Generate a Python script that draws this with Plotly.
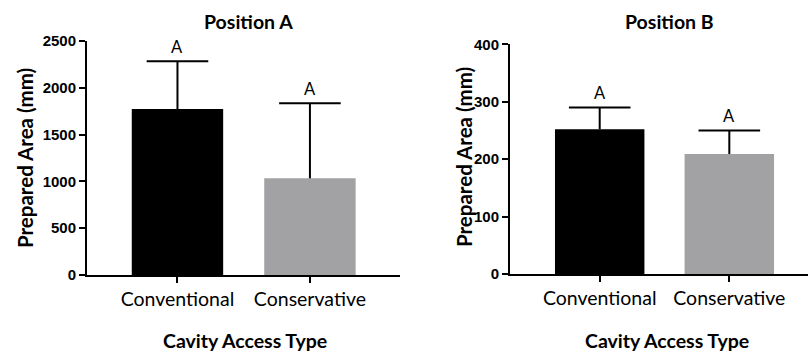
import plotly.graph_objects as go

categories = ["Conventional", "Conservative"]
pos_a_means = [1773, 1033]
pos_a_err = [510, 801]
pos_b_means = [252, 209]
pos_b_err = [38, 41]
sig_labels = ["A", "A"]
colors = ["#000000", "#a2a2a5"]

W, H = 808, 351

def px(x):
    return x / W

def py(y):
    return 1 - y / H

fig = go.Figure()

def add_panel(means, errs, xa, ya):
    fig.add_trace(go.Bar(
        x=categories, y=means, marker=dict(color=colors, line=dict(width=0)),
        width=0.69, xaxis=xa, yaxis=ya, showlegend=False, hoverinfo="skip",
    ))
    tops = [m + e for m, e in zip(means, errs)]
    # error bar: cap as a horizontal line marker at the top, stem downward to the mean
    fig.add_trace(go.Scatter(
        x=categories, y=tops, mode="markers",
        marker=dict(symbol="line-ew", size=44, color="#000000",
                    line=dict(width=2, color="#000000")),
        error_y=dict(type="data", symmetric=False, array=[0] * len(errs), arrayminus=errs,
                     color="#000000", thickness=2, width=0),
        xaxis=xa, yaxis=ya, showlegend=False, hoverinfo="skip", cliponaxis=False,
    ))

add_panel(pos_a_means, pos_a_err, "x", "y")
add_panel(pos_b_means, pos_b_err, "x2", "y2")

tickfont = dict(family="Liberation Sans", size=15, color="#000000", weight="bold")
catfont = dict(family="Lato", size=19.5, color="#000000")

axis_common = dict(showline=True, linecolor="#000000", linewidth=2, ticks="outside",
                   ticklen=6, tickwidth=2, tickcolor="#000000", showgrid=False,
                   zeroline=False, automargin=False)

fig.update_layout(
    width=W, height=H, autosize=False,
    margin=dict(l=0, r=0, t=0, b=0, pad=0, autoexpand=False),
    paper_bgcolor="white", plot_bgcolor="white",
    xaxis=dict(domain=[px(87), px(400)], range=[-0.683, 1.68], anchor="y",
               tickfont=catfont, **axis_common),
    yaxis=dict(domain=[py(275), py(41)], range=[0, 2500], tickvals=[0, 500, 1000, 1500, 2000, 2500],
               anchor="x", tickfont=tickfont, **axis_common),
    xaxis2=dict(domain=[px(510), px(808)], range=[-0.692, 1.607], anchor="y2",
                tickfont=catfont, **axis_common),
    yaxis2=dict(domain=[py(274), py(44.3)], range=[0, 400], tickvals=[0, 100, 200, 300, 400],
                anchor="x2", tickfont=tickfont, **axis_common),
)

ann = []
# significance letters
for i, c in enumerate(categories):
    ann.append(dict(x=c, y=pos_a_means[i] + pos_a_err[i], xref="x", yref="y", text=sig_labels[i],
                    showarrow=False, yanchor="bottom", yshift=2,
                    font=dict(family="Lato", size=16.5, color="#000000")))
    ann.append(dict(x=c, y=pos_b_means[i] + pos_b_err[i], xref="x2", yref="y2", text=sig_labels[i],
                    showarrow=False, yanchor="bottom", yshift=2,
                    font=dict(family="Lato", size=16.5, color="#000000")))

titlefont = dict(family="Lato", size=19.5, color="#000000", weight="bold")
ann += [
    dict(x=px(248), y=py(22), xref="paper", yref="paper", text="Position A", showarrow=False,
         font=titlefont, xanchor="center", yanchor="middle"),
    dict(x=px(669), y=py(22), xref="paper", yref="paper", text="Position B", showarrow=False,
         font=titlefont, xanchor="center", yanchor="middle"),
    dict(x=px(245), y=py(340), xref="paper", yref="paper", text="Cavity Access Type", showarrow=False,
         font=titlefont, xanchor="center", yanchor="middle"),
    dict(x=px(667), y=py(340), xref="paper", yref="paper", text="Cavity Access Type", showarrow=False,
         font=titlefont, xanchor="center", yanchor="middle"),
    dict(x=px(25), y=py(158), xref="paper", yref="paper", text="Prepared Area (mm)", showarrow=False,
         font=dict(titlefont, size=20.5), textangle=-90, xanchor="center", yanchor="middle"),
    dict(x=px(464), y=py(157), xref="paper", yref="paper", text="Prepared Area (mm)", showarrow=False,
         font=dict(titlefont, size=20.5), textangle=-90, xanchor="center", yanchor="middle"),
]
fig.update_layout(annotations=ann)

fig.write_html("out.html", config={"responsive": False, "displayModeBar": False},
               post_script="document.body.style.margin='0';document.documentElement.style.overflow='hidden';")
